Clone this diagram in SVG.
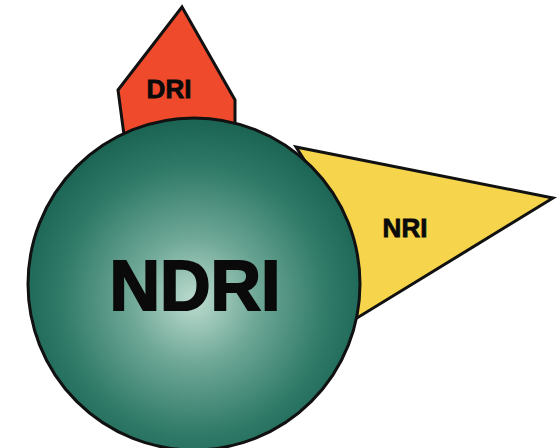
<svg xmlns="http://www.w3.org/2000/svg" width="557" height="448" viewBox="0 0 557 448">
<style>
.shape{stroke:#111;stroke-width:3;stroke-linejoin:miter}
.lbl{font-family:"Liberation Sans",Arial,sans-serif;font-weight:bold;fill:#0a0a0a;stroke:#0a0a0a;text-anchor:middle}
</style>
<defs>
<radialGradient id="ball" cx="0.5" cy="0.55" r="0.55">
<stop offset="0" stop-color="#bcdccf"/>
<stop offset="0.35" stop-color="#6ea796"/>
<stop offset="0.75" stop-color="#2d7866"/>
<stop offset="1" stop-color="#1a6353"/>
</radialGradient>
</defs>
<rect width="557" height="448" fill="#fff"/>
<g id="dri">
<polygon class="shape" fill="#f04a2c" points="182,7 235,100 235,125 124,135 118,90"/>
<text class="lbl" x="169" y="98" font-size="26" stroke-width="0.8">DRI</text>
</g>
<g id="nri">
<polygon class="shape" fill="#f6d44c" points="296,147 553,198 357,318 330,200"/>
<text class="lbl" x="405" y="237" font-size="26" stroke-width="0.8">NRI</text>
</g>
<g id="ndri">
<circle class="shape" cx="194" cy="284" r="166" fill="url(#ball)"/>
<text class="lbl" x="195" y="310" font-size="70" stroke-width="2">NDRI</text>
</g>
</svg>
